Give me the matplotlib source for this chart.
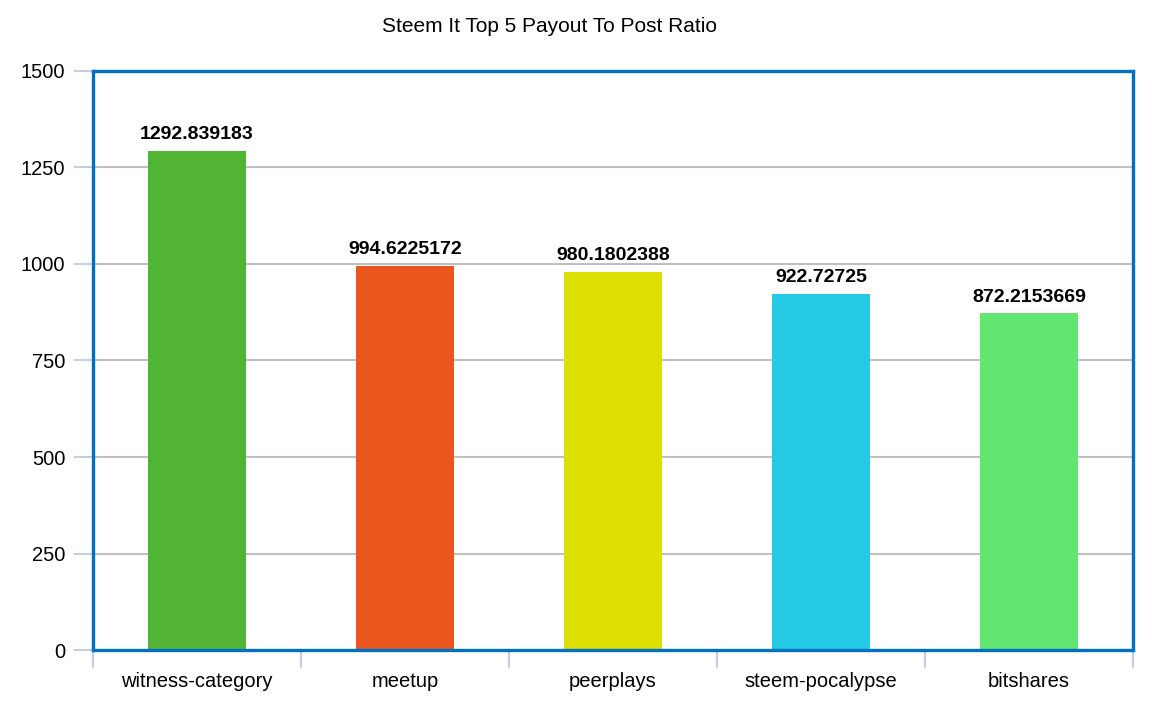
import matplotlib
matplotlib.use('Agg')
import matplotlib.pyplot as plt
import numpy as np

categories = ['witness-category', 'meetup', 'peerplays', 'steem-pocalypse', 'bitshares']
ratios = [1292.839183, 994.6225172, 980.1802388, 922.72725, 872.2153669]
labels = ['1292.839183', '994.6225172', '980.1802388', '922.72725', '872.2153669']
colors = ['#52b435', '#eb561e', '#dde000', '#24cae4', '#63e572']
yticks = [0, 250, 500, 750, 1000, 1250, 1500]

plt.rcParams['font.family'] = ['Liberation Sans', 'DejaVu Sans']

fig = plt.figure(figsize=(11.52, 7.07), dpi=100)
ax = fig.add_axes([0.0807, 0.0806, 0.9028, 0.819])

x = np.arange(len(categories))
ax.bar(x, ratios, width=0.47, color=colors, zorder=2)

for xi, v, lab in zip(x, ratios, labels):
    ax.text(xi, v + 20, lab, ha='center', va='bottom', fontsize=14,
            fontweight='bold', color='black')

ax.set_xlim(-0.5, len(categories) - 0.5)
ax.set_ylim(0, 1500)
ax.set_yticks(yticks)
ax.set_yticklabels([str(t) for t in yticks], fontsize=14.5)
ax.yaxis.grid(True, color='#c0c0c0', linewidth=1.5, zorder=0)
ax.set_axisbelow(True)

ax.set_xticks(x)
ax.set_xticklabels(categories, fontsize=14.5)
ax.set_xticks(np.arange(-0.5, len(categories)), minor=True)
ax.tick_params(axis='x', which='major', length=0, pad=16)
ax.tick_params(axis='x', which='minor', length=13, width=1.5, color='#c0d0e0')
ax.tick_params(axis='y', length=14, width=1.5, color='#c0d0e0', pad=6)

for s in ax.spines.values():
    s.set_color('#0070c0')
    s.set_linewidth(2.4)

fig.text(0.477, 0.962, 'Steem It Top 5 Payout To Post Ratio', ha='center',
         va='center', fontsize=15)

fig.savefig('out.png', dpi=100)
